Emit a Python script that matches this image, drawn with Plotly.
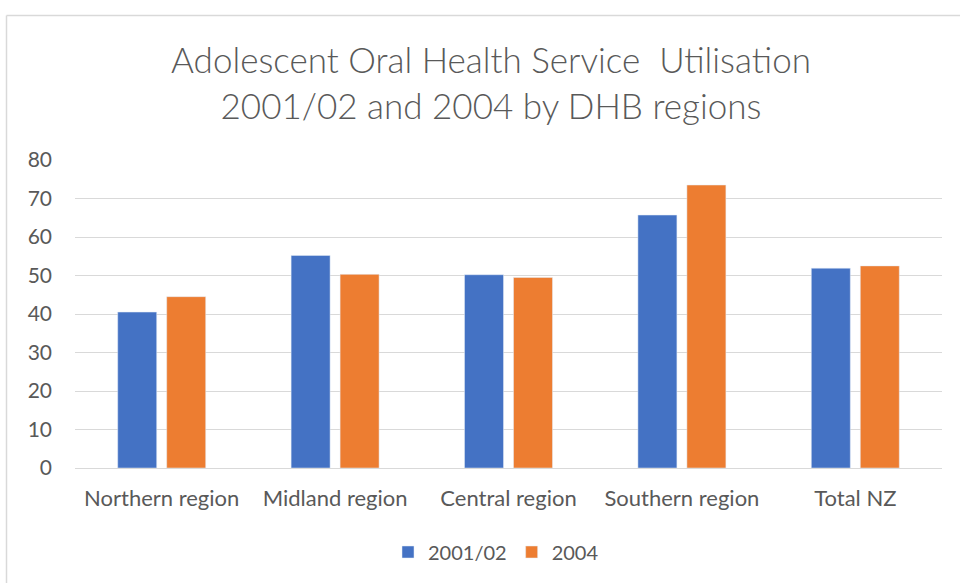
import plotly.graph_objects as go

regions = ["Northern region", "Midland region", "Central region", "Southern region", "Total NZ"]
util_2001_02 = [40.5, 55.2, 50.2, 65.7, 51.9]
util_2004 = [44.5, 50.3, 49.5, 73.5, 52.5]
y_ticks = [0, 10, 20, 30, 40, 50, 60, 70, 80]

W, H = 960, 583
L, R, T, B = 75, 942, 160, 468

fig = go.Figure()
fig.add_trace(go.Bar(name="2001/02", x=regions, y=util_2001_02, marker_color="#4472C4"))
fig.add_trace(go.Bar(name="2004", x=regions, y=util_2004, marker_color="#ED7D31"))

font_family = "Lato, Open Sans, sans-serif"
grey = "#595959"

fig.update_layout(
    width=W, height=H,
    margin=dict(l=L, r=W - R, t=T, b=H - B, pad=0),
    paper_bgcolor="white", plot_bgcolor="white",
    barmode="group", bargap=0.435, bargroupgap=0.204,
    font=dict(family=font_family, color=grey),
    title=dict(
        text="Adolescent Oral Health Service  Utilisation<br>2001/02 and 2004 by DHB regions",
        x=491 / W, xanchor="center", xref="container",
        y=1 - 73 / H, yanchor="middle", yref="container",
        font=dict(size=35, color=grey, family=font_family, weight=300),
    ),
    legend=dict(
        orientation="h", xref="container", yref="container",
        x=496 / W, xanchor="center", y=1 - 552 / H, yanchor="middle",
        font=dict(size=20, color=grey), itemwidth=30,
    ),
    xaxis=dict(
        showgrid=False, showline=True, linecolor="#D9D9D9", linewidth=1,
        ticks="", tickfont=dict(size=22, color=grey), ticklabelstandoff=11,
    ),
    yaxis=dict(
        range=[0, 80], tickvals=y_ticks, showgrid=True, gridcolor="#D9D9D9",
        gridwidth=1, zeroline=False, showline=False, ticks="",
        tickfont=dict(size=21, color=grey), ticklabelstandoff=22,
    ),
)

# chart-area border (left and top edges run off the page)
px = lambda x: (x - L) / (R - L)
py = lambda y: (B - y) / (B - T)
fig.add_shape(type="line", xref="paper", yref="paper",
              x0=px(6.5), x1=px(6.5), y0=py(600), y1=py(15.5),
              line=dict(color="#D9D9D9", width=1.5))
fig.add_shape(type="line", xref="paper", yref="paper",
              x0=px(6.5), x1=px(980), y0=py(15.5), y1=py(15.5),
              line=dict(color="#D9D9D9", width=1.5))

fig.write_html("out.html")
